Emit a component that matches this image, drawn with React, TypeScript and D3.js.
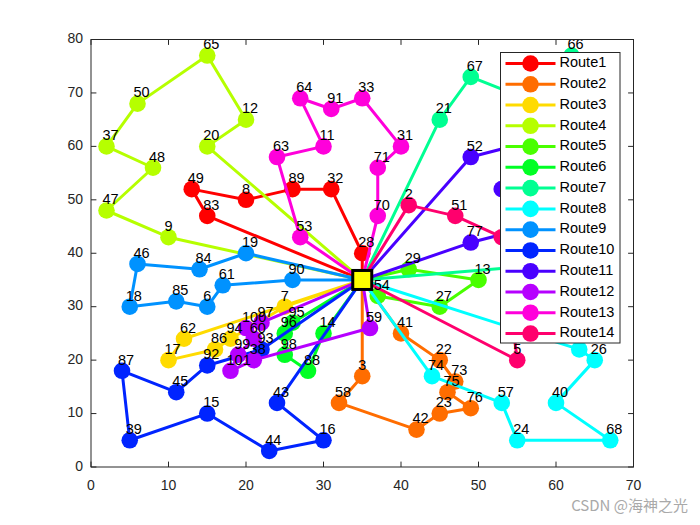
import React from 'react';
import * as d3 from 'd3';

// depot and customer nodes (id, x, y)
const depot: [number, number] = [35, 35];
const nodeIds = [28, 32, 89, 8, 49, 83, 41, 22, 73, 75, 76, 23, 42, 58, 3, 7, 94, 86, 17, 62,
  20, 12, 65, 50, 37, 48, 47, 9, 29, 13, 27, 54, 95, 96, 98, 88, 14, 21, 67, 69, 66, 35, 36,
  74, 57, 24, 68, 40, 26, 56, 90, 61, 6, 85, 18, 46, 84, 19, 93, 92, 45, 87, 39, 15, 44, 16, 43,
  52, 80, 72, 30, 77, 97, 100, 60, 99, 101, 38, 59, 53, 63, 11, 64, 91, 33, 31, 71, 70, 2, 51, 78, 5];
const nodeX = [35, 31, 26, 20, 13, 15, 40, 45, 47, 46, 49, 45, 42, 32, 35, 25, 18, 16, 10, 12,
  15, 20, 15, 6, 2, 8, 2, 10, 41, 50, 45, 37, 26, 25, 25, 28, 30, 45, 49, 56, 62, 66, 60,
  44, 53, 55, 67, 60, 65, 63, 26, 17, 15, 11, 5, 6, 14, 20, 22, 15, 11, 4, 5, 15, 23, 30, 24,
  49, 57, 53, 57, 49, 22, 20, 21, 19, 18, 21, 36, 27, 24, 30, 27, 31, 35, 40, 37, 37, 41, 47, 53, 55];
const nodeY = [40, 52, 52, 50, 52, 47, 25, 20, 16, 14, 11, 10, 7, 12, 17, 30, 24, 22, 20, 24,
  60, 65, 77, 68, 60, 56, 48, 43, 37, 35, 30, 32, 27, 25, 21, 18, 25, 65, 73, 69, 77, 58, 38,
  17, 12, 5, 5, 12, 20, 22, 35, 34, 30, 31, 30, 38, 37, 40, 22, 19, 14, 18, 5, 10, 3, 5, 12,
  58, 61, 52, 45, 42, 27, 26, 24, 21, 18, 20, 26, 43, 58, 60, 69, 67, 69, 60, 56, 47, 49, 47, 43, 20];
// nodes whose labels sit under the legend box
const coveredIds = [69, 35, 36, 56, 80, 72, 30, 78];

const routeNames = ['Route1', 'Route2', 'Route3', 'Route4', 'Route5', 'Route6', 'Route7',
  'Route8', 'Route9', 'Route10', 'Route11', 'Route12', 'Route13', 'Route14'];
const routeStops: number[][] = [
  [28, 32, 89, 8, 49, 83],
  [41, 22, 73, 75, 76, 23, 42, 58, 3],
  [7, 94, 86, 17, 62],
  [20, 12, 65, 50, 37, 48, 47, 9],
  [29, 13, 27, 54],
  [95, 96, 98, 88, 14],
  [21, 67, 69, 66, 35, 36],
  [74, 57, 24, 68, 40, 26, 56],
  [90, 61, 6, 85, 18, 46, 84, 19],
  [93, 92, 45, 87, 39, 15, 44, 16, 43],
  [52, 80, 72, 30, 77],
  [97, 100, 60, 99, 101, 38, 59],
  [53, 63, 11, 64, 91, 33, 31, 71, 70],
  [2, 51, 78, 5],
];

const W = 700, H = 525;
const FONT = 'Helvetica, Arial, "Liberation Sans", sans-serif';
const AX = '#262626';

const App = () => {
  const x = d3.scaleLinear().domain([0, 70]).range([91, 633.5]);
  const y = d3.scaleLinear().domain([0, 80]).range([467, 39.5]);
  const color = d3.scaleOrdinal<string, string>()
    .domain(routeNames)
    .range(routeNames.map((_, i) => d3.hsl((i * 360) / routeNames.length, 1, 0.5).formatHex()));
  const line = d3.line<[number, number]>().x(d => x(d[0])).y(d => y(d[1]));

  const pos = (id: number): [number, number] => {
    const k = nodeIds.indexOf(id);
    return [nodeX[k], nodeY[k]];
  };

  const r = 8.3;
  const lw = 3;
  const [x0, x1] = x.range();
  const [y0, y1] = y.range();
  const tl = 5.4;

  // legend
  const lgX = 500.5, lgY = 52.5, lgW = 119.5, rowH = 20.77;
  const lgH = 290.5;

  return (
    <svg width={W} height={H} style={{ position: 'absolute', left: 0, top: 0, background: '#fff' }}
      fontFamily={FONT}>
      <rect x={0} y={0} width={W} height={H} fill="#fff" />
      <rect x={x0} y={y1} width={x1 - x0} height={y0 - y1} fill="#fff" />

      {routeNames.map((name, i) => {
        const pts: [number, number][] = [depot, ...routeStops[i].map(pos), depot];
        const c = color(name);
        return (
          <g key={name}>
            <path d={line(pts) || ''} fill="none" stroke={c} strokeWidth={lw} strokeLinejoin="round" />
            {routeStops[i].map(id => {
              const p = pos(id);
              return <circle key={id} cx={x(p[0])} cy={y(p[1])} r={r} fill={c} />;
            })}
          </g>
        );
      })}

      {/* depot */}
      <rect x={x(depot[0]) - 9.5} y={y(depot[1]) - 9.5} width={19} height={19}
        fill="#ffff00" stroke="#000" strokeWidth={3} />

      {/* node labels */}
      {routeStops.flat().filter(id => !coveredIds.includes(id)).map(id => {
        const p = pos(id);
        return (
          <text key={'t' + id} x={x(p[0]) - 4} y={y(p[1]) - 10} fontSize={14.5}
            dominantBaseline="middle" fill="#000">{id}</text>
        );
      })}

      {/* axes box */}
      <rect x={x0} y={y1} width={x1 - x0} height={y0 - y1} fill="none" stroke={AX} strokeWidth={1} />
      {x.ticks(7).map(t => (
        <g key={'x' + t}>
          <line x1={x(t)} x2={x(t)} y1={y0} y2={y0 - tl} stroke={AX} />
          <line x1={x(t)} x2={x(t)} y1={y1} y2={y1 + tl} stroke={AX} />
          <text x={x(t)} y={y0 + 19} fontSize={14} textAnchor="middle" dominantBaseline="middle" fill={AX}>{t}</text>
        </g>
      ))}
      {y.ticks(8).map(t => (
        <g key={'y' + t}>
          <line x1={x0} x2={x0 + tl} y1={y(t)} y2={y(t)} stroke={AX} />
          <line x1={x1} x2={x1 - tl} y1={y(t)} y2={y(t)} stroke={AX} />
          <text x={x0 - 8} y={y(t)} fontSize={14} textAnchor="end" dominantBaseline="middle" fill={AX}>{t}</text>
        </g>
      ))}

      {/* legend */}
      <rect x={lgX} y={lgY} width={lgW} height={lgH} fill="#fff" stroke={AX} strokeWidth={1} />
      {routeNames.map((name, i) => {
        const cy = lgY + 11 + i * rowH;
        return (
          <g key={'lg' + name}>
            <line x1={lgX + 5} x2={lgX + 55} y1={cy} y2={cy} stroke={color(name)} strokeWidth={lw} />
            <circle cx={lgX + 30} cy={cy} r={r} fill={color(name)} />
            <text x={lgX + 59} y={cy} fontSize={14.5} dominantBaseline="middle" fill="#000">{name}</text>
          </g>
        );
      })}

      <text x={688} y={507} fontSize={15} textAnchor="end" dominantBaseline="middle" fill="#a9a9a9"
        fontFamily='"Noto Sans CJK SC", "Liberation Sans", sans-serif'>CSDN @海神之光</text>
    </svg>
  );
};

export default App;
